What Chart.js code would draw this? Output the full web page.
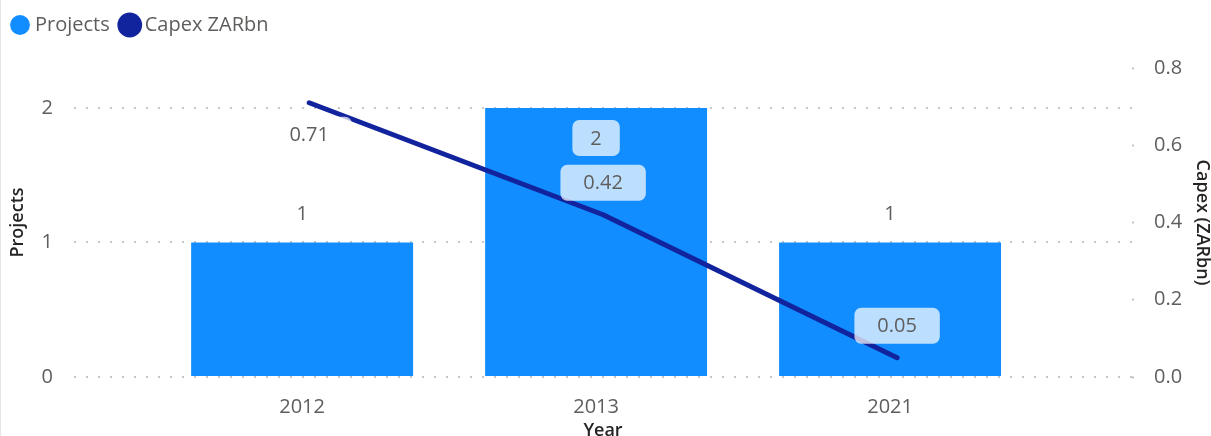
<!DOCTYPE html>
<html>
<head>
<meta charset="utf-8">
<script src="https://cdn.jsdelivr.net/npm/chart.js@4/dist/chart.umd.min.js"></script>
<style>
    html, body { margin: 0; padding: 0; background: #fff; }
    #wrap { position: relative; width: 1211px; height: 436px; }
    #edge { position: absolute; left: 0; top: 0; width: 1px; height: 436px; background: #e6e6e6; }
</style>
</head>
<body>
<div id="wrap">
    <canvas id="projectsChart" width="1211" height="436"></canvas>
    <div id="edge"></div>
</div>
<script>
const years = ['2012', '2013', '2021'];
const projects = [1, 2, 1];
const capexZARbn = [0.71, 0.42, 0.05];
const projectTicks = [0, 1, 2];
const capexTicks = [0, 0.2, 0.4, 0.6, 0.8];

const FONT = "'Segoe UI', 'Open Sans', sans-serif";
const barColor = '#118DFF';
const lineColor = '#12239E';
const textGrey = '#605E5C';
const titleColor = '#252423';
const gridGrey = '#c8c6c4';
// the line sits a touch right of the bar centres
const LINE_SHIFT = 0.024;

// stretch the legend block so the plot starts lower down
const legendHeight = {
    id: 'legendHeight',
    beforeInit(chart) {
        const fit = chart.legend.fit;
        chart.legend.fit = function () {
            fit.call(this);
            this.height = 68;
        };
    }
};

// value labels with a soft rounded backing, drawn over bars and line
const valueLabels = {
    id: 'valueLabels',
    afterDatasetsDraw(chart) {
        const ctx = chart.ctx;
        const area = chart.chartArea;
        ctx.save();
        ctx.font = '20px ' + FONT;
        ctx.textAlign = 'center';
        ctx.textBaseline = 'middle';

        const drawLabel = (text, x, y) => {
            const w = ctx.measureText(text).width * 1.35 + 32;
            const h = 36;
            ctx.fillStyle = 'rgba(255,255,255,0.72)';
            ctx.beginPath();
            ctx.roundRect(x - w / 2, y - h / 2, w, h, 7);
            ctx.fill();
            ctx.fillStyle = textGrey;
            ctx.fillText(text, x, y + 1);
        };

        chart.getDatasetMeta(0).data.forEach((bar, i) => {
            let y = bar.y - 29;
            if (y - 18 < area.top) y = bar.y + 30;
            drawLabel(String(projects[i]), bar.x, y);
        });

        chart.getDatasetMeta(1).data.forEach((pt, i) => {
            let y = pt.y - 32;
            if (y - 18 < area.top) y = pt.y + 32;
            drawLabel(capexZARbn[i].toFixed(2), pt.x, y);
        });
        ctx.restore();
    }
};

const ctx = document.getElementById('projectsChart').getContext('2d');

new Chart(ctx, {
    type: 'bar',
    data: {
        datasets: [
            {
                type: 'bar',
                label: 'Projects',
                data: projects.map((v, i) => ({ x: i, y: v })),
                backgroundColor: barColor,
                borderWidth: 0,
                barPercentage: 0.755,
                categoryPercentage: 1,
                yAxisID: 'y',
                order: 2
            },
            {
                type: 'line',
                label: 'Capex ZARbn',
                data: capexZARbn.map((v, i) => ({ x: i + LINE_SHIFT, y: v })),
                borderColor: lineColor,
                backgroundColor: lineColor,
                borderWidth: 5,
                borderCapStyle: 'round',
                borderJoinStyle: 'round',
                pointRadius: 0,
                tension: 0,
                yAxisID: 'y1',
                order: 1
            }
        ]
    },
    options: {
        responsive: false,
        animation: false,
        layout: { padding: 0 },
        plugins: {
            legend: {
                position: 'top',
                align: 'start',
                labels: {
                    usePointStyle: true,
                    pointStyle: 'circle',
                    boxWidth: 10,
                    boxHeight: 14,
                    padding: 15,
                    color: textGrey,
                    font: { family: FONT, size: 20 },
                    sort: (a, b) => a.datasetIndex - b.datasetIndex
                }
            },
            tooltip: { enabled: false }
        },
        scales: {
            x: {
                type: 'linear',
                offset: false,
                min: -0.776,
                max: 2.823,
                afterBuildTicks: axis => {
                    axis.ticks = years.map((_, i) => ({ value: i }));
                },
                afterFit: axis => { axis.height = 59; },
                grid: { display: false },
                border: { display: false },
                ticks: {
                    color: textGrey,
                    padding: 10,
                    font: { family: FONT, size: 20 },
                    callback: value => years[value]
                },
                title: {
                    display: true,
                    text: 'Year',
                    color: titleColor,
                    padding: { top: 0, bottom: -6 },
                    font: { family: FONT, size: 18, weight: '600' }
                }
            },
            y: {
                position: 'left',
                min: 0,
                max: 2.297,
                afterBuildTicks: axis => {
                    axis.ticks = projectTicks.map(v => ({ value: v }));
                },
                afterFit: axis => { axis.width = 74; },
                grid: {
                    color: gridGrey,
                    lineWidth: 2,
                    drawTicks: false
                },
                border: { display: false, dash: [2, 10] },
                ticks: {
                    color: textGrey,
                    padding: 21,
                    font: { family: FONT, size: 20 }
                },
                title: {
                    display: true,
                    text: 'Projects',
                    color: titleColor,
                    padding: { top: 7, bottom: 0 },
                    font: { family: FONT, size: 18, weight: '600' }
                }
            },
            y1: {
                position: 'right',
                min: 0,
                max: 0.8,
                afterBuildTicks: axis => {
                    axis.ticks = capexTicks.map(v => ({ value: v }));
                },
                afterFit: axis => { axis.width = 79; },
                grid: {
                    drawOnChartArea: false,
                    drawTicks: true,
                    tickLength: 2,
                    tickWidth: 2,
                    tickColor: gridGrey
                },
                border: { display: false },
                ticks: {
                    color: textGrey,
                    padding: 20,
                    font: { family: FONT, size: 20 },
                    callback: value => value.toFixed(1)
                },
                title: {
                    display: true,
                    text: 'Capex (ZARbn)',
                    color: titleColor,
                    padding: { top: -2, bottom: 0 },
                    font: { family: FONT, size: 18, weight: '600' }
                }
            }
        }
    },
    plugins: [legendHeight, valueLabels]
});
</script>
</body>
</html>
